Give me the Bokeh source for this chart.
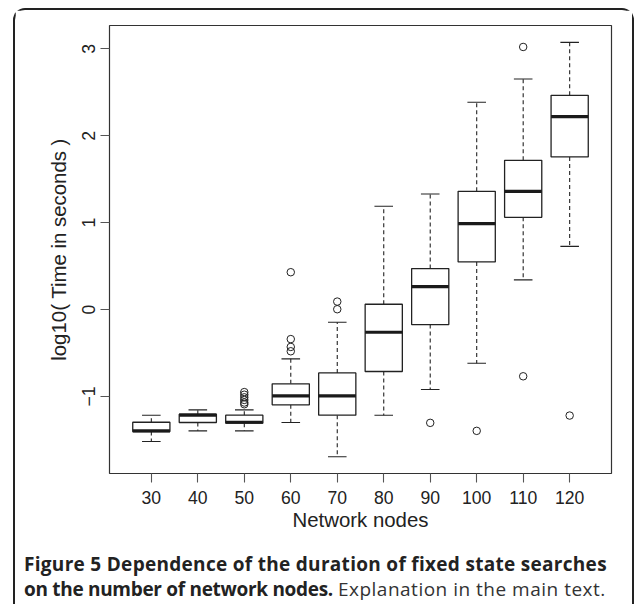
from bokeh.plotting import figure
from bokeh.layouts import column
from bokeh.models import Range1d, FixedTicker, Div
from bokeh.embed import file_html
from bokeh.resources import INLINE

# ---- data ----
nodes = [30, 40, 50, 60, 70, 80, 90, 100, 110, 120]
whisker_low = [-1.519, -1.396, -1.396, -1.300, -1.695, -1.216, -0.920, -0.618, 0.342, 0.728]
q1 = [-1.404, -1.300, -1.308, -1.097, -1.216, -0.713, -0.173, 0.549, 1.062, 1.757]
median = [-1.396, -1.216, -1.297, -0.993, -0.993, -0.261, 0.265, 0.990, 1.361, 2.221]
q3 = [-1.297, -1.205, -1.216, -0.855, -0.729, 0.061, 0.472, 1.361, 1.718, 2.466]
whisker_high = [-1.216, -1.155, -1.155, -0.567, -0.146, 1.189, 1.331, 2.386, 2.655, 3.076]
outlier_node = [50, 50, 50, 50, 50, 50, 60, 60, 60, 60, 70, 70, 90, 100, 110, 110, 120]
outlier_value = [-0.95, -0.98, -1.01, -1.04, -1.07, -1.09,
                 0.43, -0.34, -0.43, -0.48, 0.092, 0.004,
                 -1.304, -1.396, 3.023, -0.768, -1.22]
y_ticks = [-1, 0, 1, 2, 3]
y_tick_labels = ["\u22121", "0", "1", "2", "3"]
x_title = "Network nodes"
y_title = "log10( Time in seconds )"
caption_bold_1 = "Figure 5 Dependence of the duration of fixed state searches"
caption_bold_2 = "on the number of network nodes."
caption_plain_2 = "Explanation in the main text."

# ---- positions (boxplot places groups at 1..n) ----
pos = list(range(1, len(nodes) + 1))
box_w = 0.8
staple_half = box_w / 4
out_pos = [pos[nodes.index(n)] for n in outlier_node]

AX_FONT = "Liberation Sans"
INK = "#222222"

W = 617
p = figure(width=W, height=530,
           x_range=Range1d(0.1, 10.9), y_range=Range1d(-1.887, 3.27),
           output_backend="svg", toolbar_location=None,
           min_border_left=94, min_border_right=21,
           min_border_top=15, min_border_bottom=67)
p.grid.visible = False
p.background_fill_color = "white"
p.border_fill_color = "white"
p.outline_line_color = "#333333"
p.outline_line_width = 1.2

# whiskers (dashed)
p.segment(x0=pos, y0=q3, x1=pos, y1=whisker_high, line_color=INK,
          line_width=1.1, line_dash="4 3")
p.segment(x0=pos, y0=q1, x1=pos, y1=whisker_low, line_color=INK,
          line_width=1.1, line_dash="4 3")
# staples
p.segment(x0=[x - staple_half for x in pos], y0=whisker_high,
          x1=[x + staple_half for x in pos], y1=whisker_high,
          line_color=INK, line_width=1.1)
p.segment(x0=[x - staple_half for x in pos], y0=whisker_low,
          x1=[x + staple_half for x in pos], y1=whisker_low,
          line_color=INK, line_width=1.1)
# boxes
p.vbar(x=pos, width=box_w, bottom=q1, top=q3, fill_color="white",
       line_color=INK, line_width=1.3)
# medians
p.segment(x0=[x - box_w / 2 for x in pos], y0=median,
          x1=[x + box_w / 2 for x in pos], y1=median,
          line_color="#1a1a1a", line_width=3.2)
# outliers
p.scatter(x=out_pos, y=outlier_value, marker="circle", size=7.5,
          fill_color=None, line_color=INK, line_width=1.0)

# axes
xa = p.xaxis[0]
xa.ticker = FixedTicker(ticks=pos)
xa.major_label_overrides = {x: str(n) for x, n in zip(pos, nodes)}
ya = p.yaxis[0]
ya.ticker = FixedTicker(ticks=y_ticks)
ya.major_label_overrides = {t: l for t, l in zip(y_ticks, y_tick_labels)}
ya.major_label_orientation = "vertical"
for ax in (xa, ya):
    ax.axis_line_color = None
    ax.major_tick_out = 9
    ax.major_tick_in = 0
    ax.minor_tick_line_color = None
    ax.major_tick_line_color = "#555555"
    ax.major_tick_line_width = 1.1
    ax.major_label_text_font = AX_FONT
    ax.major_label_text_font_size = "17.6px"
    ax.major_label_text_color = INK
    ax.axis_label_text_font = AX_FONT
    ax.axis_label_text_font_size = "20.4px"
    ax.axis_label_text_font_style = "normal"
    ax.axis_label_text_color = INK
xa.axis_label = x_title
ya.axis_label = y_title
xa.major_label_standoff = 8
xa.axis_label_standoff = 2
ya.major_label_standoff = 5
ya.axis_label_standoff = 10

# ---- caption (real HTML text) ----
caption_html = (
    '<div style="padding:12px 0 0 9px;font-family:\'Open Sans\',sans-serif;'
    'font-size:19px;line-height:25px;color:#222;white-space:nowrap;">'
    f'<b style="letter-spacing:0.3px">{caption_bold_1}</b><br>'
    f'<b style="letter-spacing:-0.3px">{caption_bold_2}</b> '
    f'<span style="color:#333;letter-spacing:0.5px">{caption_plain_2}</span></div>'
)
cap = Div(text=caption_html, width=W, height=64, margin=0)

layout = column(p, cap, spacing=0,
                styles={"margin-left": "13px", "margin-top": "8px",
                        "border-left": "2px solid #222",
                        "border-top": "2px solid #222",
                        "border-right": "2px solid #222",
                        "border-top-left-radius": "12px",
                        "border-top-right-radius": "12px"})

open("out.html", "w").write(file_html(layout, INLINE))
